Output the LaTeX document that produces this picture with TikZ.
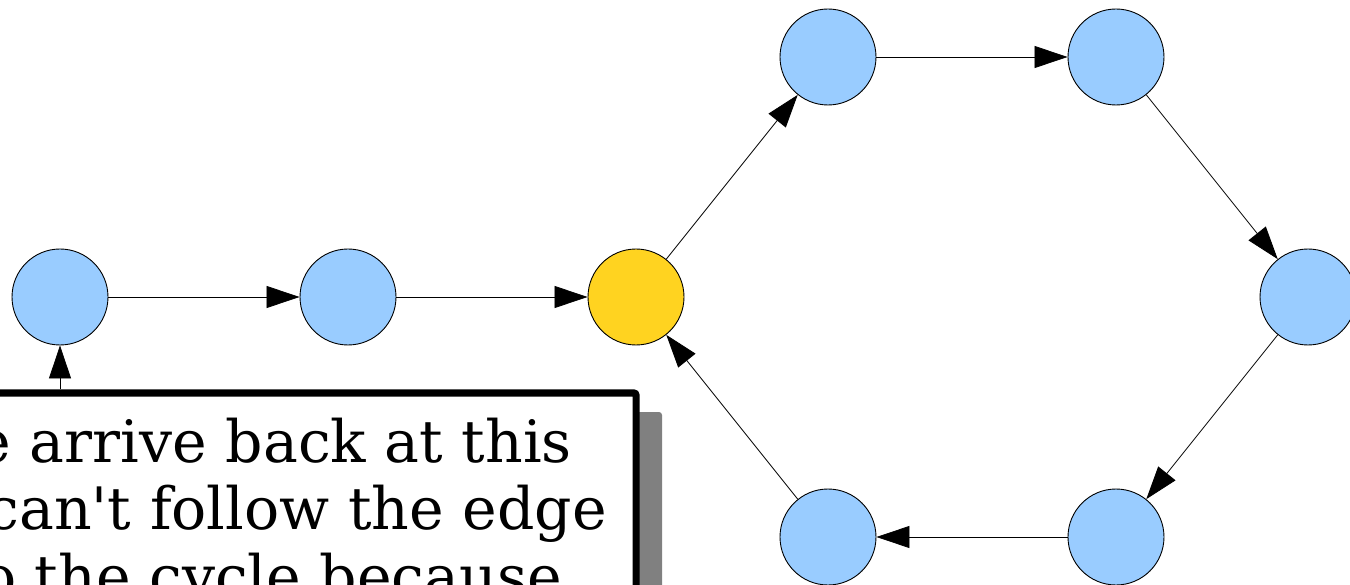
\documentclass[tikz,border=0pt]{standalone}
\usepackage{fontspec}
\newfontfamily\boxfont{DejaVu Serif}
\usetikzlibrary{arrows.meta}
\definecolor{nodeblue}{HTML}{99CCFF}
\definecolor{nodegold}{HTML}{FFD320}
\definecolor{shadowgray}{HTML}{808080}
\tikzset{
  vert/.style={circle, draw=black, line width=0.9pt, minimum size=96pt, inner sep=0pt, fill=nodeblue},
  start/.style={vert, fill=nodegold},
  edge/.style={line width=0.8pt, -{Triangle[length=33pt,width=22pt]}},
  textline/.style={inner sep=0pt, anchor=base east, font=\boxfont\fontsize{58.5pt}{68pt}\selectfont},
}
\begin{document}
\begin{tikzpicture}[x=1pt,y=-1pt]
\useasboundingbox (0,0) rectangle (1350,585);
\clip (0,0) rectangle (1350,585);
% vertices
\node[vert] (a) at (60,297) {};
\node[vert] (b) at (348,297) {};
\node[start] (c) at (636,297) {};
\node[vert] (d) at (828,57) {};
\node[vert] (e) at (1116,57) {};
\node[vert] (f) at (1308,297) {};
\node[vert] (g) at (1116,537) {};
\node[vert] (h) at (828,537) {};
% edges
\draw[edge] (a) -- (b);
\draw[edge] (b) -- (c);
\draw[edge] (c) -- (d);
\draw[edge] (d) -- (e);
\draw[edge] (e) -- (f);
\draw[edge] (f) -- (g);
\draw[edge] (g) -- (h);
\draw[edge] (h) -- (c);
% callout box with shadow
\fill[shadowgray, rounded corners=3pt] (-100,412) rectangle (662,720);
\node[draw=black, fill=white, line width=7pt, rounded corners=2pt, minimum width=736pt, minimum height=307pt, inner sep=0pt] (box) at (268,546.5) {};
\draw[edge] (box.north -| a) -- (a);
\node[textline] (t1) at (572,462) {e arrive back at this};
\node[textline] (t2) at (607,529) {can't follow the edge};
\node[textline] (t3) at (562,597) {o the cycle because};
\end{tikzpicture}
\end{document}
